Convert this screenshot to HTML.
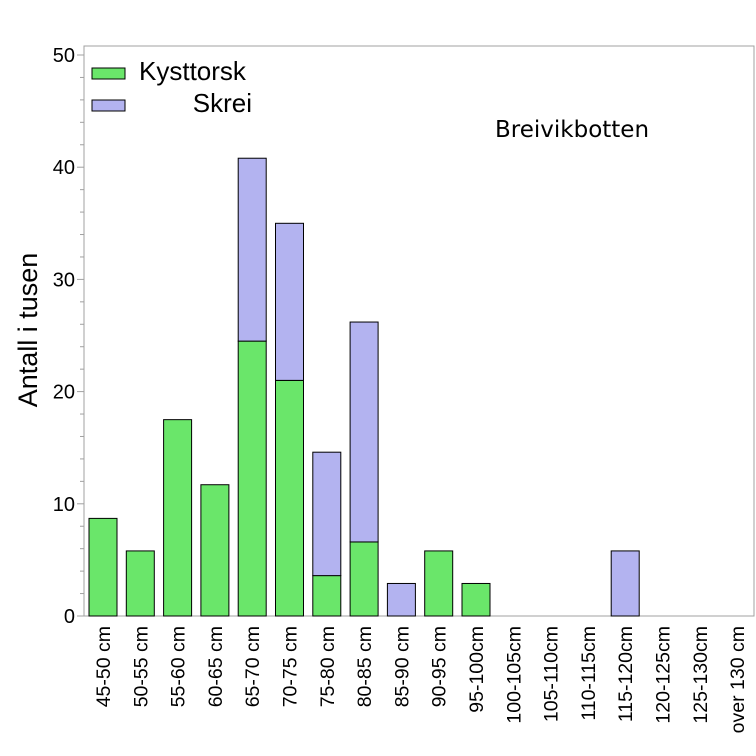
<!DOCTYPE html>
<html><head><style>body{margin:0;background:#fff}svg{display:block}</style></head><body>
<svg width="756" height="756" xmlns="http://www.w3.org/2000/svg" font-family="Liberation Sans, sans-serif">
<rect x="84" y="46" width="670" height="570" fill="#fff" stroke="#a0a0a0" stroke-width="1"/>
<g id="bars" stroke="#000" stroke-width="1"></g>
<g stroke="#a0a0a0" stroke-width="1" id="ticks"></g>
<g font-size="20" text-anchor="end" fill="#000" id="ylab"></g>
<text transform="translate(37,330) rotate(-90)" font-size="27" text-anchor="middle">Antall i tusen</text>
<g font-size="19.5" id="xlab"></g>
<rect x="92" y="68" width="33" height="11" fill="#6ae66a" stroke="#000"/>
<rect x="92" y="100" width="33" height="11" fill="#b3b3f0" stroke="#000"/>
<text x="139" y="80" font-size="26">Kysttorsk</text>
<text x="252" y="112" font-size="26" text-anchor="end">Skrei</text>
<text x="495" y="137" font-size="23" font-family="DejaVu Sans, sans-serif">Breivikbotten</text>
<script>
const y=v=>616-11.22*v;
const ns="http://www.w3.org/2000/svg";
const cats=["45-50 cm","50-55 cm","55-60 cm","60-65 cm","65-70 cm","70-75 cm","75-80 cm","80-85 cm","85-90 cm","90-95 cm","95-100cm","100-105cm","105-110cm","110-115cm","115-120cm","120-125cm","125-130cm","over 130 cm"];
const g=[8.7,5.8,17.5,11.7,24.5,21,3.6,6.6,0,5.8,2.9,0,0,0,0,0,0,0];
const s=[0,0,0,0,16.3,14,11,19.6,2.9,0,0,0,0,0,5.8,0,0,0];
const B=document.getElementById("bars"),X=document.getElementById("xlab"),T=document.getElementById("ticks"),L=document.getElementById("ylab");
function el(p,t,a){const e=document.createElementNS(ns,t);for(const k in a)e.setAttribute(k,a[k]);p.appendChild(e);return e;}
cats.forEach((c,i)=>{const cx=103+i*37.3,x0=cx-14;
 if(g[i]>0)el(B,"rect",{x:x0,y:y(g[i]),width:28,height:616-y(g[i]),fill:"#6ae66a"});
 if(s[i]>0)el(B,"rect",{x:x0,y:y(g[i]+s[i]),width:28,height:11.22*s[i],fill:"#b3b3f0"});
 const t=el(X,"text",{transform:`translate(${cx+7},626) rotate(-90)`,"text-anchor":"end"});t.textContent=c;});
for(let v=0;v<=50;v+=2){const yy=y(v);el(T,"line",{x1:v%10==0?77:80,x2:84,y1:yy,y2:yy});}
for(let v=0;v<=50;v+=10){const t=el(L,"text",{x:75,y:y(v)+7});t.textContent=v;}
</script>
</svg></body></html>
